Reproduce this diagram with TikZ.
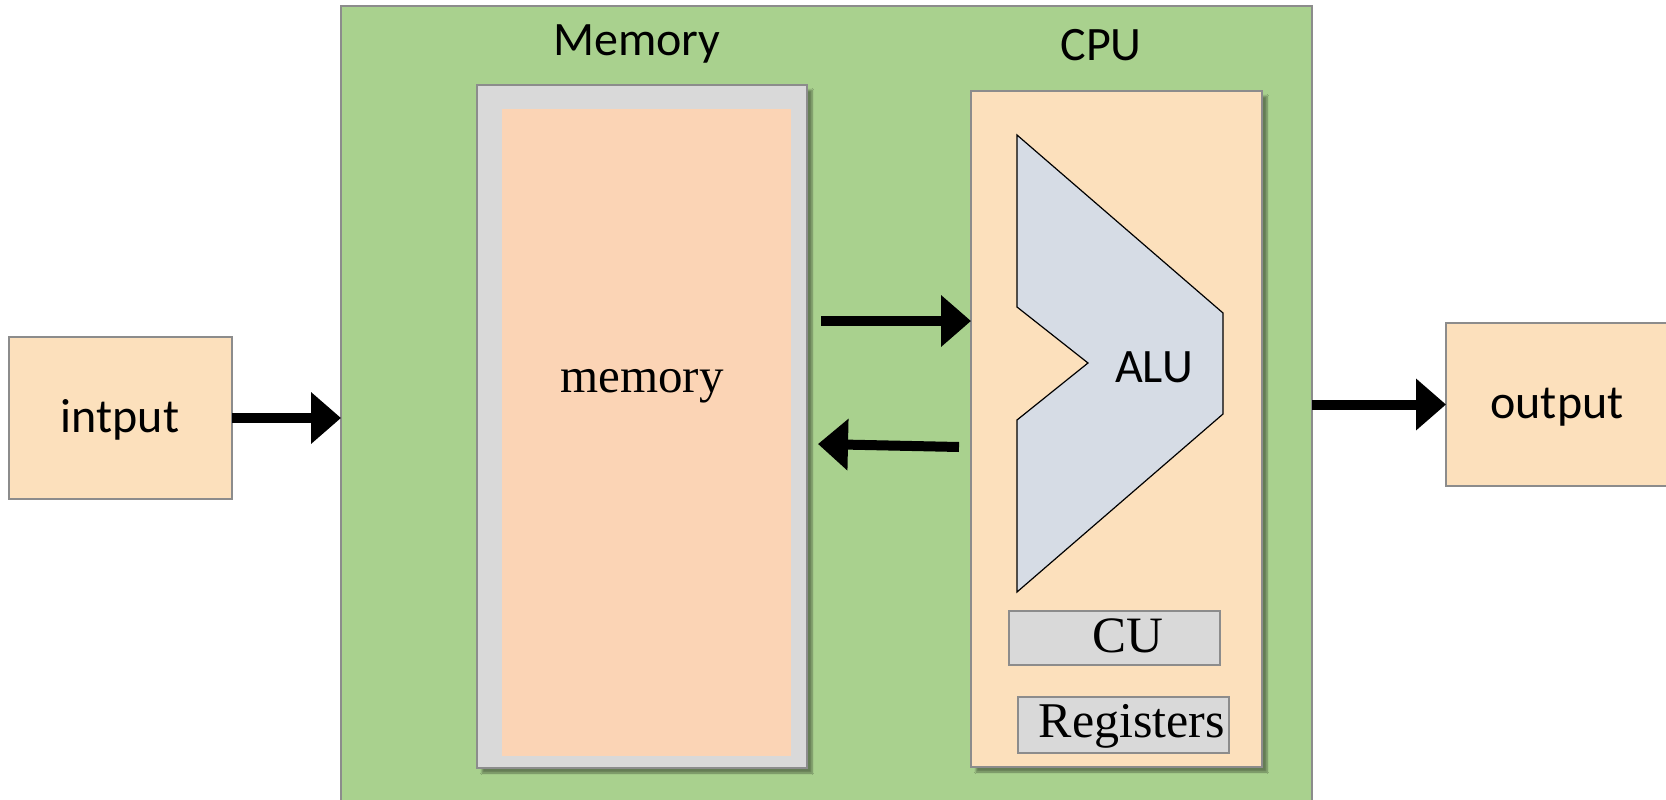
\documentclass[tikz,border=0pt]{standalone}
\usepackage{fontspec}
\setmainfont{Liberation Serif}
\newfontfamily\calib{Carlito}
\usetikzlibrary{arrows.meta,shadows.blur}
\definecolor{sysgreen}{HTML}{A9D18E}
\definecolor{peach}{HTML}{FCE0BC}
\definecolor{meminner}{HTML}{FBD4B5}
\definecolor{lgray}{HTML}{D9D9D9}
\definecolor{alufill}{HTML}{D6DCE5}
\definecolor{bordergray}{HTML}{8C8C8C}
\tikzset{
  boxbase/.style={rectangle, inner sep=0pt, outer sep=0pt, draw=bordergray, line width=1.5pt},
  sansbig/.style={font=\calib\fontsize{48}{52}\selectfont, inner sep=0pt},
  serifbig/.style={font=\fontsize{49}{54}\selectfont, inner sep=0pt},
  bigarrow/.style={line width=10pt, -{Triangle[length=30pt,width=50pt]}},
  softshadow/.style={blur shadow={shadow xshift=5pt, shadow yshift=-5pt, shadow blur steps=6, shadow opacity=40}}
}
\begin{document}
\begin{tikzpicture}[x=1pt,y=-1pt]
\useasboundingbox (0,0) rectangle (1666,800);
% system box
\node[boxbase, fill=sysgreen, minimum width=971pt, minimum height=810pt] (sys) at (826.5,411) {};
% input / output
\node[boxbase, fill=peach, minimum width=223pt, minimum height=162pt] (in) at (120.5,418) {};
\node[boxbase, fill=peach, minimum width=234pt, minimum height=163pt] (out) at (1563,404.5) {};
\node[sansbig, anchor=base] (intxt) at (120,432) {intput};
\node[sansbig, anchor=base] (outtxt) at (1557,418) {output};
% memory
\node[boxbase, fill=lgray, minimum width=330pt, minimum height=683pt, softshadow] (mem) at (642,426.5) {};
\node[rectangle, inner sep=0pt, fill=meminner, minimum width=289pt, minimum height=647pt] (memin) at (646.5,432.5) {};
\node[sansbig, anchor=base] (memtitle) at (637,56) {Memory};
\node[serifbig, anchor=base] (memtxt) at (642,392) {memory};
% cpu
\node[boxbase, fill=peach, minimum width=291pt, minimum height=676pt, softshadow] (cpu) at (1116.5,429) {};
\node[sansbig, anchor=base] (cputitle) at (1101,61) {CPU};
\draw[fill=alufill, line width=1.2pt, line join=miter]
  (1017,135) -- (1223,313) -- (1223,414) -- (1017,592) -- (1017,420) -- (1088,363) -- (1017,307) -- cycle;
\node[font=\calib\fontsize{48}{52}\selectfont, inner sep=0pt, anchor=base] (alu) at (1154,382) {ALU};
\node[boxbase, fill=lgray, minimum width=211pt, minimum height=54pt] (cu) at (1114.5,638) {};
\node[serifbig, font=\fontsize{51}{55}\selectfont, anchor=base] (cutxt) at (1128,652) {CU};
\node[boxbase, fill=lgray, minimum width=211pt, minimum height=56pt] (reg) at (1123.5,725) {};
\node[serifbig, font=\fontsize{50}{54}\selectfont, anchor=base] (regtxt) at (1132,737) {Registers};
% arrows
\draw[bigarrow] (in.east) -- (in.east -| sys.west);
\draw[bigarrow] (out.west -| sys.east) -- (out.west);
\coordinate (m2c) at (821,321);
\draw[bigarrow] (m2c) -- (m2c -| cpu.west);
\coordinate (c2m) at (959,447);
\coordinate (c2mend) at (818,444);
\draw[bigarrow] (c2m) -- (c2mend);
\end{tikzpicture}
\end{document}
